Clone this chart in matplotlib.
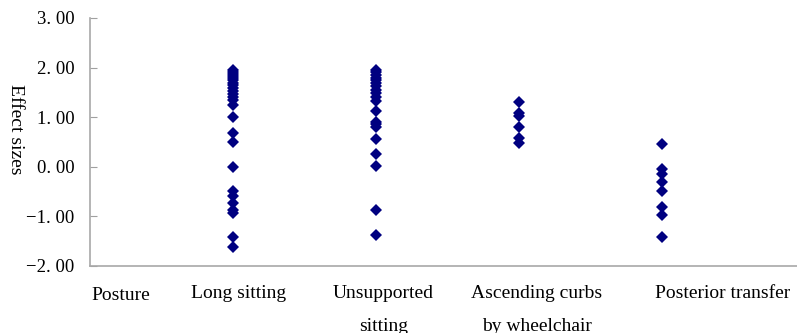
import matplotlib
matplotlib.use("Agg")
import matplotlib.pyplot as plt
import matplotlib.transforms as mtransforms

categories = ["Long sitting", "Unsupported\nsitting", "Ascending curbs\nby wheelchair", "Posterior transfer"]

long_sitting = [1.96, 1.92, 1.88, 1.84, 1.79, 1.74, 1.69, 1.64, 1.58, 1.52, 1.46, 1.40,
                1.34, 1.25, 1.01, 0.69, 0.51, 0.00, -0.48, -0.58, -0.72, -0.87, -0.93,
                -1.41, -1.61]
unsupported_sitting = [1.95, 1.91, 1.86, 1.80, 1.74, 1.68, 1.62, 1.55, 1.48, 1.40, 1.32,
                       1.13, 0.91, 0.86, 0.80, 0.56, 0.26, 0.02, -0.88, -1.38]
ascending_curbs = [1.31, 1.08, 1.02, 0.80, 0.58, 0.47]
posterior_transfer = [0.46, -0.04, -0.14, -0.30, -0.48, -0.81, -0.97, -1.41]

series = [long_sitting, unsupported_sitting, ascending_curbs, posterior_transfer]

yticks = [-2, -1, 0, 1, 2, 3]
ytick_labels = ["\u22122. 00", "\u22121. 00", "0. 00", "1. 00", "2. 00", "3. 00"]

FONT = "Liberation Serif"

fig = plt.figure(figsize=(7.97, 3.33), dpi=100)
ax = fig.add_axes([90 / 797, 1 - 266 / 333, 707 / 797, 248 / 333])

for i, vals in enumerate(series):
    ax.plot([i + 1] * len(vals), vals, linestyle="none", marker="D",
            markersize=6, color="#000080", markeredgewidth=0)

ax.set_xlim(0, 4.94)
ax.set_ylim(-2, 3)
ax.set_yticks(yticks)
ax.set_yticklabels(ytick_labels, fontfamily=FONT, fontsize=13.5)
ax.set_xticks([])
ax.tick_params(axis="y", direction="in", length=5, color="#a0a0a0", pad=11)

for s in ["top", "right"]:
    ax.spines[s].set_visible(False)
for s in ["left", "bottom"]:
    ax.spines[s].set_color("#a8a8a8")
    ax.spines[s].set_linewidth(1.2)

ax.set_ylabel("Effect sizes", fontfamily=FONT, fontsize=14, rotation=270,
              va="center", ha="center", rotation_mode="default")
ax.yaxis.set_label_coords(-75 / 707, 0.55)

trans = mtransforms.blended_transform_factory(ax.transData, fig.transFigure)
ax.text(0.216, 1 - 295 / 333, "Posture", transform=trans, ha="center", va="center",
        fontfamily=FONT, fontsize=14)
label_x = [1.04, 2.05, 3.12, 4.42]
for x, lab in zip(label_x, categories):
    ax.text(x, 1 - 285 / 333, lab, transform=trans, ha="center", va="top",
            fontfamily=FONT, fontsize=14, linespacing=2.2)

fig.savefig("out.png", dpi=100)
